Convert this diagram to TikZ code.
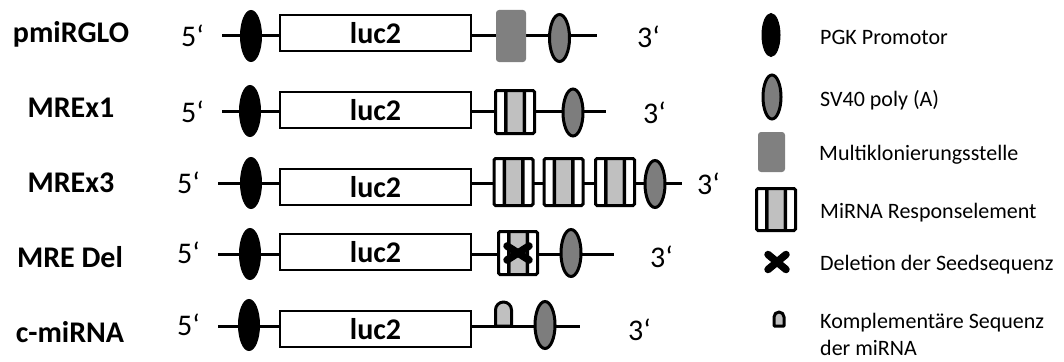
\documentclass[tikz,border=0pt]{standalone}
\usepackage{fontspec}
\setmainfont{Carlito}
\usetikzlibrary{shapes.geometric, backgrounds}
\definecolor{mregray}{RGB}{192,192,192}
\definecolor{mcsgray}{RGB}{128,128,128}
\definecolor{svgray}{RGB}{125,125,125}
\tikzset{%
  dna/.style={line width=3pt},
  constr/.style={font=\fontsize{30}{30}\selectfont\bfseries, anchor=base, inner sep=0pt},
  prime/.style={font=\fontsize{30}{30}\selectfont, anchor=base west, inner sep=0pt},
  promoter/.style={ellipse, draw=black, fill=black, line width=1pt, inner sep=0pt,
    minimum width=21pt, minimum height=51pt},
  polya/.style={ellipse, draw=black, fill=svgray, line width=3pt, inner sep=0pt,
    minimum width=20pt, minimum height=47pt},
  luc/.style={draw, line width=2pt, fill=white, inner sep=0pt,
    minimum width=191pt, minimum height=36pt,
    font=\fontsize{30}{30}\selectfont\bfseries},
  mcs/.style={fill=mcsgray, rounded corners=3pt, inner sep=0pt,
    minimum width=30pt, minimum height=52pt},
  mre/.style={draw, line width=3pt, fill=white, rounded corners=1.5pt, inner sep=0pt,
    minimum width=39pt, minimum height=43pt,
    path picture={
      \fill[mregray] ([xshift=-7.5pt]path picture bounding box.north)
        rectangle ([xshift=7.5pt]path picture bounding box.south);
      \fill[black] ([xshift=-11pt]path picture bounding box.north)
        rectangle ([xshift=-7.5pt]path picture bounding box.south);
      \fill[black] ([xshift=7.5pt]path picture bounding box.north)
        rectangle ([xshift=11pt]path picture bounding box.south);
    }},
  delx/.style={line width=7.5pt, line cap=round},
  seq/.style={draw, line width=3pt, fill=mregray, line join=round},
  legend/.style={font=\fontsize{22}{27}\selectfont, anchor=base west, inner sep=0pt, align=left}
}
\begin{document}
\begin{tikzpicture}[x=1pt, y=-1pt]
  \useasboundingbox (0,0) rectangle (1064,361);

  % pmiRGLO
  \node[constr] (lab1) at (71,43) {pmiRGLO};
  \node[prime] (five1) at (181,47) {5‘};
  \coordinate (s1) at (222,36);
  \node[promoter] (pro1) at (251,36) {};
  \node[luc] (luc1) at (375.5,33) {luc2};
  \node[mcs] (mcs1) at (511,36) {};
  \node[polya] (sv1) at (559.5,38) {};
  \coordinate (e1) at (597,36);
  \node[prime] (three1) at (637,48) {3‘};

  % MREx1
  \node[constr] (lab2) at (71,117) {MREx1};
  \node[prime] (five2) at (181,122) {5‘};
  \coordinate (s2) at (222,111);
  \node[promoter] (pro2) at (250,111) {};
  \node[luc] (luc2) at (375.5,110) {luc2};
  \node[mre] (mre2) at (515,112) {};
  \node[polya] (sv2) at (573,112.5) {};
  \coordinate (e2) at (606,111);
  \node[prime] (three2) at (643,123) {3‘};

  % MREx3
  \node[constr] (lab3) at (71,192) {MREx3};
  \node[prime] (five3) at (177,193) {5‘};
  \coordinate (s3) at (218,183);
  \node[promoter] (pro3) at (251,183) {};
  \node[luc] (luc3) at (375.5,187) {luc2};
  \node[mre, minimum height=47pt] (mre3a) at (513.5,182) {};
  \node[mre, minimum height=47pt] (mre3b) at (563.5,182) {};
  \node[mre, minimum height=47pt] (mre3c) at (615,182) {};
  \node[polya] (sv3) at (655,184) {};
  \coordinate (e3) at (682,183);
  \node[prime] (three3) at (697,194) {3‘};

  % MRE Del
  \node[constr] (lab4) at (70,267) {MRE Del};
  \node[prime] (five4) at (177,263) {5‘};
  \coordinate (s4) at (218,254);
  \node[promoter] (pro4) at (250,254) {};
  \node[luc] (luc4) at (375.5,252) {luc2};
  \node[mre] (mre4) at (518,253) {};
  \draw[delx] ([shift={(-11pt,-7pt)}]mre4.center) -- ([shift={(11pt,7pt)}]mre4.center)
              ([shift={(-11pt,7pt)}]mre4.center) -- ([shift={(11pt,-7pt)}]mre4.center);
  \node[polya] (sv4) at (571,253) {};
  \coordinate (e4) at (614,254);
  \node[prime] (three4) at (650,267) {3‘};

  % c-miRNA
  \node[constr] (lab5) at (70,342) {c-miRNA};
  \node[prime] (five5) at (177,335) {5‘};
  \coordinate (s5) at (218,326);
  \node[promoter] (pro5) at (249,325) {};
  \node[luc] (luc5) at (375.5,329) {luc2};
  \coordinate (cm5) at (503.5,326);
  \draw[seq] ([xshift=-8pt]cm5) -- ++(0,-16) arc[start angle=180, end angle=360, radius=8] -- ([xshift=8pt]cm5) -- cycle;
  \node[polya] (sv5) at (545,325) {};
  \coordinate (e5) at (580,326);
  \node[prime] (three5) at (628,340) {3‘};

  \begin{scope}[on background layer]
    \draw[dna] (s1) -- (e1);
    \draw[dna] (s2) -- (e2);
    \draw[dna] (s3) -- (e3);
    \draw[dna] (s4) -- (e4);
    \draw[dna] (s5) -- (e5);
  \end{scope}

  % legend
  \node[promoter, minimum width=18pt, minimum height=43pt] (legpro) at (771,35) {};
  \node[legend] (txtpro) at (820,45) {PGK Promotor};
  \node[polya, minimum width=18pt, minimum height=44pt] (legsv) at (772,97) {};
  \node[legend] (txtsv) at (820,106) {SV40 poly (A)};
  \node[mcs, minimum width=27pt, minimum height=40pt] (legmcs) at (771.5,152) {};
  \node[legend] (txtmcs) at (819,160) {Multiklonierungsstelle};
  \node[mre, minimum height=42pt] (legmre) at (776,209.5) {};
  \node[legend] (txtmre) at (820,218) {MiRNA Responselement};
  \coordinate (legdel) at (777,262);
  \draw[delx] ([shift={(-9pt,-7.5pt)}]legdel) -- ([shift={(9pt,7.5pt)}]legdel)
              ([shift={(-9pt,7.5pt)}]legdel) -- ([shift={(9pt,-7.5pt)}]legdel);
  \node[legend] (txtdel) at (820,270) {Deletion der Seedsequenz};
  \coordinate (legseq) at (779,326);
  \draw[seq] ([xshift=-5pt]legseq) -- ++(0,-9) arc[start angle=180, end angle=360, radius=5] -- ([xshift=5pt]legseq) -- cycle;
  \node[legend] (txtseq) at (820,355) {Komplementäre Sequenz\\der miRNA};
\end{tikzpicture}
\end{document}
